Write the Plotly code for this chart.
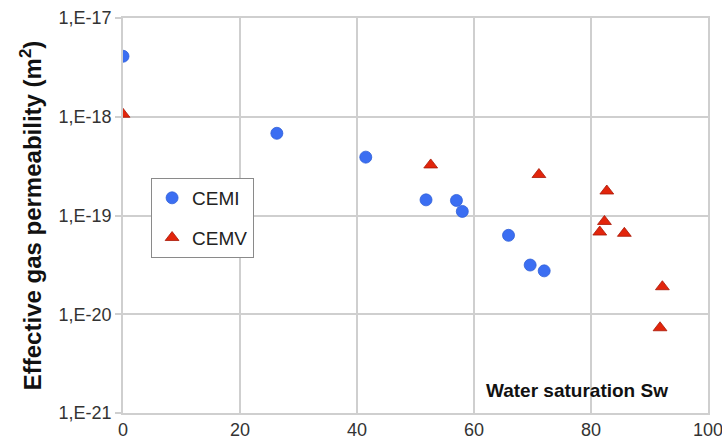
import plotly.graph_objects as go

cemi_sw = [0, 26.3, 41.5, 51.8, 57.0, 58.0, 65.9, 69.6, 72.0]
cemi_k = [4.1e-18, 6.8e-19, 3.9e-19, 1.44e-19, 1.42e-19, 1.1e-19, 6.3e-20, 3.15e-20, 2.75e-20]

cemv_sw = [0, 52.6, 71.1, 82.7, 82.3, 81.5, 85.7, 92.2, 91.8]
cemv_k = [1.06e-18, 3.25e-19, 2.6e-19, 1.77e-19, 8.7e-20, 6.8e-20, 6.6e-20, 1.9e-20, 7.3e-21]

y_tickvals = [1e-21, 1e-20, 1e-19, 1e-18, 1e-17]
y_ticktext = ["1,E-21", "1,E-20", "1,E-19", "1,E-18", "1,E-17"]
x_tickvals = [0, 20, 40, 60, 80, 100]

font_family = "Liberation Sans, Arial, sans-serif"

fig = go.Figure()
fig.add_trace(go.Scatter(
    x=cemi_sw, y=cemi_k, mode="markers", name="CEMI", legendgroup="g1",
    marker=dict(symbol="circle", size=12, color="#3b6ef2",
                line=dict(color="#2f5fd8", width=0.8)),
))
fig.add_trace(go.Scatter(
    x=cemv_sw, y=cemv_k, mode="markers", name="CEMV", legendgroup="g2",
    marker=dict(symbol="triangle-up", size=12, color="#e2250c",
                line=dict(color="#a81806", width=0.8)),
))

grid = "#cfcfcf"
fig.update_layout(
    width=722, height=446,
    margin=dict(l=123, r=14, t=18, b=33),
    paper_bgcolor="white", plot_bgcolor="white",
    font=dict(family=font_family, size=18, color="#333333"),
    showlegend=True,
    legend=dict(
        x=0.048, y=0.595, xanchor="left", yanchor="top",
        bgcolor="white", bordercolor="#8a8a8a", borderwidth=1,
        font=dict(size=19, color="#222222"),
        tracegroupgap=12, itemwidth=30,
    ),
    xaxis=dict(
        range=[0, 100], tickvals=x_tickvals, showgrid=True, gridcolor=grid, gridwidth=1.5,
        zeroline=False, showline=True, linecolor=grid, linewidth=1.5, mirror=True,
        ticks="", tickfont=dict(size=18, color="#333333"), automargin=False,
        ticklabeloverflow="allow",
    ),
    yaxis=dict(
        type="log", range=[-21, -17], tickvals=y_tickvals, ticktext=y_ticktext,
        showgrid=True, gridcolor=grid, gridwidth=1.5, zeroline=False,
        showline=True, linecolor=grid, linewidth=1.5, mirror=True,
        ticks="outside", ticklen=6, tickcolor=grid, tickwidth=1.5,
        tickfont=dict(size=18, color="#333333"), automargin=False,
        ticklabeloverflow="allow",
        title=dict(text="<b>Effective gas permeability (m<sup>2</sup>)</b>",
                   font=dict(size=24, color="#111111"), standoff=10),
    ),
    annotations=[dict(
        x=0.935, y=0.025, xref="paper", yref="paper", xanchor="right", yanchor="bottom",
        text="<b>Water saturation Sw</b>", showarrow=False,
        font=dict(size=19, color="#111111"),
    )],
)

fig.write_html("out.html", config={"displayModeBar": False},
               post_script="document.body.style.margin='0';document.body.style.overflow='hidden';")
